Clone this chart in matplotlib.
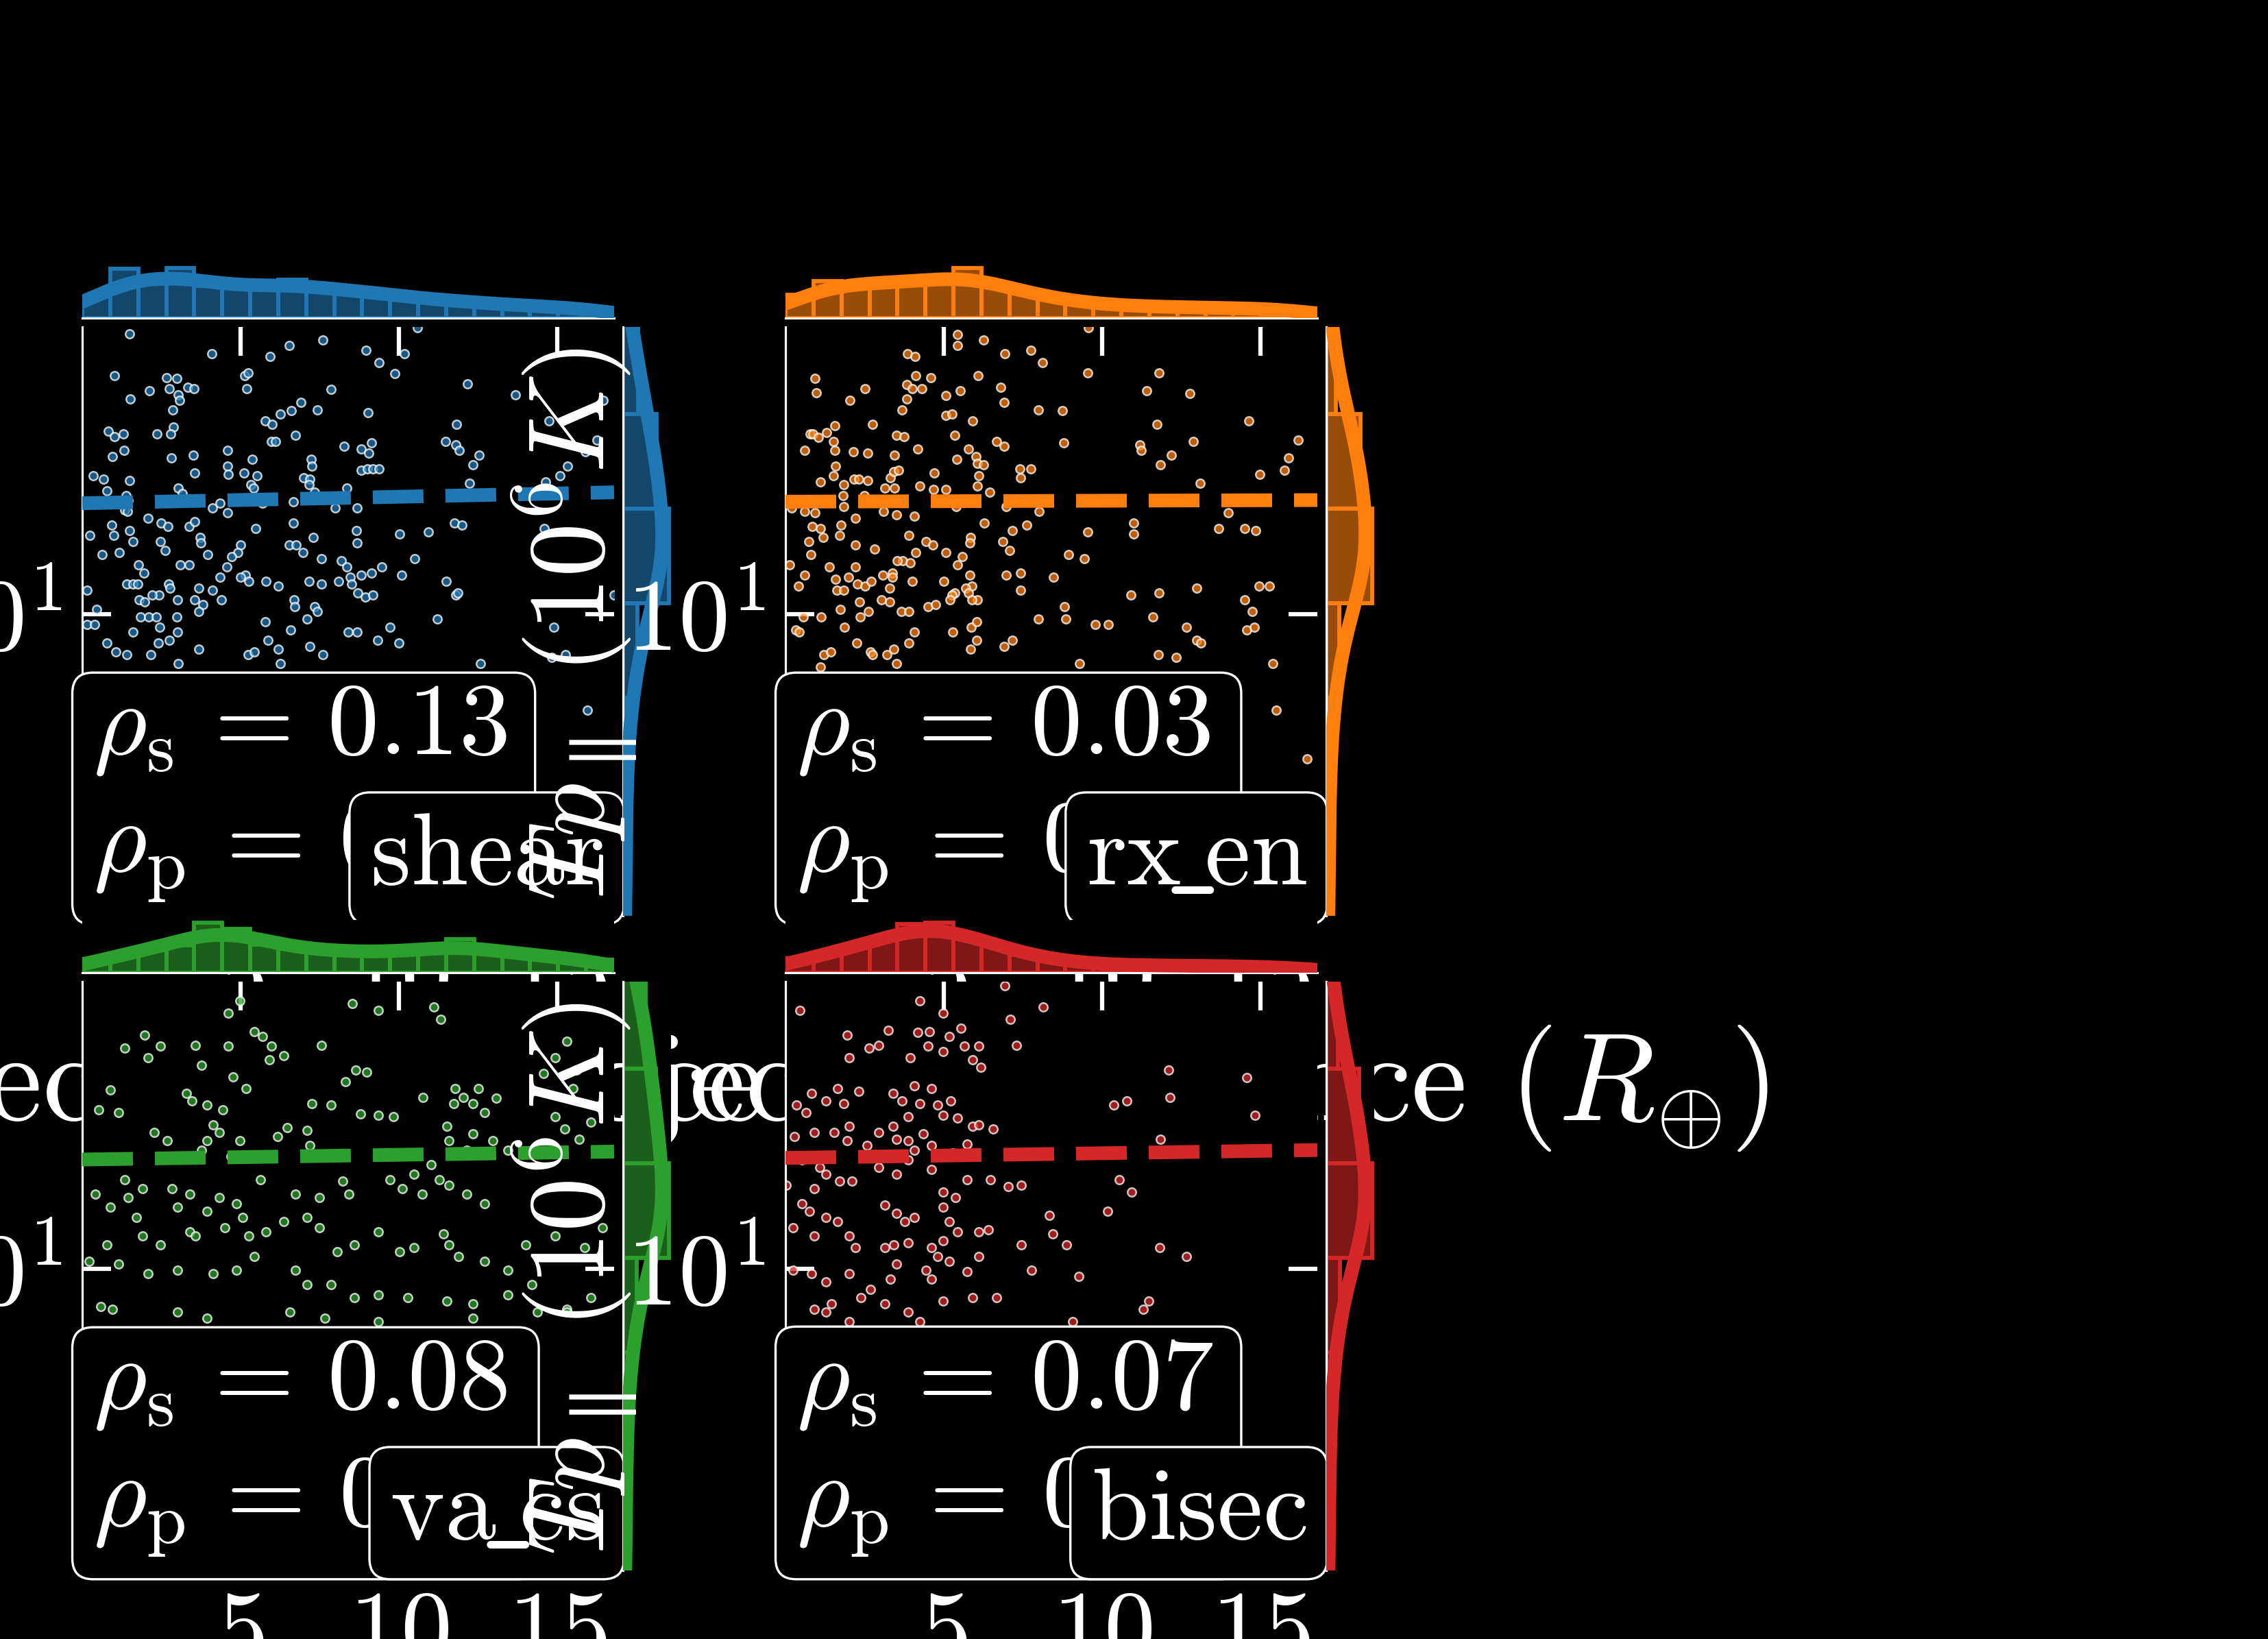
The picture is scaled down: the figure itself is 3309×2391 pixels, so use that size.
import numpy as np
import matplotlib
matplotlib.use("Agg")
import matplotlib.pyplot as plt
from matplotlib.colors import to_rgba
from matplotlib.ticker import FixedLocator, NullLocator

# ------------------------------------------------------------------ data
panel_labels = [r"$\mathrm{shear}$", r"$\mathrm{rx}\!\_\!\mathrm{en}$", r"$\mathrm{va}\!\_\!\mathrm{cs}$", r"$\mathrm{bisec}$"]
colors = ["#1f77b4", "#ff7f0e", "#2ca02c", "#d62728"]
rho_s = [0.13, 0.03, 0.08, 0.07]
rho_p = [0.11, 0.02, 0.06, 0.05]
trend_start = [15.6, 15.7, 15.5, 15.6]
trend_end = [16.3, 15.8, 16.0, 16.1]
x_range = [0.0, 16.8]
log_y_range = [0.475, 1.5]
x_ticks = [5, 10, 15]
xlabel = r"Projected distance ($R_{\!\oplus}\!$)"
ylabel = r"$Tp_\parallel$ ($10^6 K$)"

shear_pts = [
    (1.49,30.8),(4.10,28.4),(5.93,28.1),(6.53,29.4),(7.60,30.0),(8.97,28.8),(9.38,27.4),(9.88,26.2),(10.18,28.4),(10.58,31.5),(1.02,26.0),(2.67,25.8),(2.98,25.7),(5.14,26.0),(5.23,26.3),
    (2.13,24.5),(2.74,24.7),(3.04,24.1),(3.07,23.6),(3.34,24.8),(3.53,24.7),(1.52,23.7),(5.20,24.7),(7.86,24.6),(12.16,25.2),(13.68,24.1),(16.46,23.6),(6.91,23.4),(6.61,22.6),(6.26,22.3),(7.42,22.7),(9.03,22.4),(2.86,22.7),(5.78,21.7),(6.00,21.4),(14.74,21.7),(11.82,21.4),(2.89,21.2),
    (0.82,20.8),(1.02,20.4),(1.29,20.6),(2.37,20.6),(2.80,20.6),(6.73,20.5),(5.97,20.0),(6.11,20.0),(8.27,19.6),(8.81,19.4),(9.13,19.9),(9.06,19.1),(11.47,20.0),(11.79,19.7),(11.90,19.3),(16.26,20.1),(15.90,19.2),(1.32,19.3),(0.96,18.8),(2.81,18.7),(3.51,18.9),(4.60,19.3),(5.36,18.6),(7.23,18.6),(7.25,18.1),(12.54,18.9),(12.34,18.2),(15.32,18.1),(15.08,17.4),(4.59,18.1),(4.62,17.5),(3.56,17.6),(5.12,17.6),(5.52,17.4),(8.81,17.8),(9.00,17.9),(9.19,17.9),(9.38,17.9),(0.35,17.4),(0.67,17.2),(0.79,16.4),(1.49,17.1),(6.99,17.3),(7.19,17.2),(7.16,16.8),(8.36,16.6),(12.23,16.9),(14.64,17.0),
    (1.38,16.1),(1.44,15.8),(3.04,16.6),(3.15,16.2),(5.32,16.8),(5.41,16.6),(7.33,16.3),(6.66,15.7),(5.70,15.6),(4.12,15.3),(4.36,15.6),(4.60,15.0),(1.34,15.2),(1.43,15.1),(7.99,15.3),(8.69,15.3),
    (2.07,14.7),(2.48,14.4),(2.71,14.2),(0.94,14.3),(0.24,13.7),(0.99,13.7),(1.50,14.0),(3.37,14.2),(3.56,14.5),(5.47,14.1),(6.67,14.4),(8.66,14.0),(10.02,13.8),(10.94,13.9),(11.76,14.4),(12.00,14.3),(14.59,14.1),(2.46,13.4),(3.72,13.6),(3.75,13.3),(1.61,13.4),(7.29,13.6),(8.69,13.3),(6.53,13.2),(6.75,13.2),(6.98,12.8),(5.00,13.2),(0.62,12.7),(1.16,12.8),(2.61,12.9),(3.97,12.7),(4.91,12.8),(4.73,12.6),(7.55,12.5),(8.18,12.4),(8.36,12.1),(9.47,12.1),(10.50,12.5),
    (1.78,12.2),(1.95,11.8),(3.10,12.2),(3.37,12.2),(4.57,12.1),(5.15,11.7),(5.00,11.6),(4.35,11.6),(5.26,11.4),(5.81,11.4),(6.20,11.2),(7.17,11.4),(7.55,11.3),(8.10,11.4),(8.47,11.6),(8.50,11.3),(8.81,11.7),(9.13,11.8),(10.08,11.7),(11.49,11.4),(1.40,11.3),(1.60,11.3),(1.76,11.3),(2.72,11.3),(2.77,11.1),(3.68,11.1),(4.12,11.0),(0.15,11.0),(2.42,10.8),(2.20,10.8),(3.01,10.6),(3.56,10.6),(8.71,10.9),(8.94,10.7),(9.19,10.8),(11.79,10.8),(11.87,10.9),(6.69,10.6),(6.72,10.3),(7.34,10.3),(4.39,10.6),(1.79,10.6),(1.96,10.5),(3.81,10.4),(0.46,10.2),
    (1.85,9.9),(2.10,9.9),(2.33,9.9),(2.98,9.9),(3.69,10.1),(0.15,9.6),(0.40,9.6),(1.60,9.3),(2.45,9.5),(3.01,9.3),(5.78,9.7),(6.58,9.4),(7.11,9.8),(7.42,10.1),(9.73,9.5),(11.22,9.8),(8.40,9.3),(8.68,9.3),(0.78,8.9),(2.40,8.9),(2.75,9.0),(3.69,8.7),(5.87,9.0),(6.19,8.7),(7.19,8.8),(9.33,9.0),(10.00,8.9),(1.06,8.6),(1.40,8.5),(2.17,8.5),(3.04,8.2),(5.23,8.5),(5.44,8.6),(6.25,8.2),(7.60,8.5),(12.58,8.2),(14.89,9.5),(14.82,8.4),(15.27,8.5),(15.96,6.8),(16.79,10.8),
]

rxen_pts = [
    (5.44,30.7),(5.43,29.4),(6.26,30.0),(6.93,28.4),(7.74,28.8),(8.11,27.4),(9.56,31.5),(3.86,28.4),(4.09,28.1),(0.93,25.7),(0.97,24.3),(4.12,26.0),(4.59,25.8),(3.83,25.1),(4.01,24.7),(4.31,24.7),(3.83,23.7),(5.07,24.0),(5.52,24.5),(6.09,26.0),(6.79,24.8),(6.90,23.4),(2.51,24.7),(2.03,23.6),(9.55,26.3),(11.79,26.3),(11.42,24.5),(12.78,24.2),
    (3.67,22.7),(5.07,22.2),(5.26,22.3),(5.91,21.7),(7.98,22.7),(8.74,22.6),(11.74,21.4),(14.63,21.7),(16.19,20.1),(0.77,20.6),(0.86,20.6),(1.04,20.3),(1.30,20.7),(1.55,21.3),(1.51,20.0),(0.60,19.3),(1.55,19.3),(2.14,19.2),(2.60,19.1),(2.76,21.4),(3.44,18.9),(3.50,20.5),(3.74,20.4),(4.18,19.4),(5.35,20.5),(5.78,19.4),(6.66,20.0),(6.90,19.6),(8.78,19.9),(11.20,19.7),(11.23,19.3),(12.89,20.0),(12.19,18.9),(11.85,18.2),(15.90,18.7),(15.75,17.8),(14.98,17.5),(13.10,16.9),
    (1.59,18.1),(1.52,17.4),(1.10,17.0),(1.85,16.8),(2.16,17.2),(2.32,17.2),(2.60,17.1),(3.13,16.6),(3.31,17.3),(3.42,17.7),(3.58,17.8),(3.45,16.6),(4.25,16.7),(4.70,17.6),(4.68,16.5),(5.07,16.5),(5.41,18.6),(6.02,18.8),(6.07,18.3),(6.25,18.2),(6.11,17.4),(6.07,16.7),(6.46,16.3),(7.41,17.9),(7.76,17.9),(7.43,17.3),
    (1.81,16.1),(2.50,16.1),(1.84,15.4),(0.60,15.1),(0.93,15.0),(0.20,15.3),(3.09,15.1),(3.50,14.9),(4.07,14.8),(5.40,15.4),(6.98,15.4),(8.02,15.1),(13.98,15.0),(0.84,14.2),(1.11,14.1),(1.18,13.6),(0.73,13.4),(1.76,14.3),(1.70,13.7),(2.20,14.7),(3.90,13.7),(2.82,13.0),(4.44,13.4),(4.66,13.2),(5.84,13.6),(5.82,13.3),(6.28,14.4),(6.86,13.4),(7.17,14.0),(7.61,14.3),(7.08,12.9),(9.55,13.9),(11.00,14.4),(11.00,13.8),(13.69,14.1),(14.50,14.1),(14.86,14.0),
    (0.81,12.7),(2.20,13.2),(1.39,12.1),(1.59,11.5),(2.21,12.1),(2.00,11.6),(2.28,11.3),(2.51,11.2),(2.71,11.4),(3.08,11.7),(3.38,11.8),(3.37,11.6),(3.71,12.4),(3.52,12.4),(3.94,12.3),(4.12,12.8),(5.07,12.8),(5.44,12.2),(5.58,12.6),(5.82,11.7),(5.89,11.2),(5.70,11.1),(5.78,10.9),(6.07,10.6),(5.01,11.4),(5.35,10.9),(5.27,10.8),(6.98,11.7),(7.43,11.8),(7.42,11.0),(8.46,11.6),(8.94,12.7),(9.43,12.5),
    (0.41,11.2),(0.60,11.7),(1.62,11.0),(1.83,11.0),(2.33,10.5),(3.04,10.6),(3.28,10.5),(3.30,11.1),(4.01,11.4),(4.51,10.3),(4.75,10.4),(5.19,10.6),(5.88,10.6),(10.91,10.8),(11.79,10.9),(13.00,11.1),(14.95,11.2),(15.28,11.2),(14.51,10.6),(14.74,10.1),(0.14,12.2),
    (1.74,10.2),(2.61,10.1),(3.65,10.1),(3.90,10.1),(0.56,9.9),(1.13,9.9),(2.35,9.9),(8.82,10.3),(8.85,9.8),(7.98,9.8),(9.78,9.6),(10.20,9.6),(11.60,9.9),(12.66,9.5),(14.58,9.4),(14.80,9.5),(0.33,9.4),(0.44,9.3),(1.87,9.5),(4.08,9.3),(5.29,9.3),(5.87,9.5),(6.04,9.7),(6.04,9.0),
    (2.25,8.9),(2.69,8.6),(2.76,8.5),(3.20,8.5),(3.42,8.7),(3.90,8.9),(5.84,8.7),(6.90,8.8),(7.16,9.0),(11.78,8.5),(12.34,8.4),(13.00,9.0),(13.12,8.9),(15.40,8.2),(1.10,8.1),(1.21,8.5),(1.43,8.6),(3.50,8.2),(9.29,8.2),(15.51,6.8),(16.48,5.6),
]

vacs_pts = [
    (4.99,29.3),(8.53,29.0),(9.35,28.2),(11.10,28.6),(11.33,27.2),(4.62,27.9),(1.97,25.5),(1.34,24.2),(2.46,24.4),(3.57,24.5),(4.62,24.4),(5.44,25.9),(5.70,25.4),(5.98,24.4),(6.37,23.5),(5.92,23.1),(7.56,24.5),(2.08,23.3),(3.76,22.6),(4.77,21.6),(5.18,20.6),
    (3.28,20.2),(3.46,19.6),(3.95,19.3),(4.43,18.9),(0.89,20.5),(0.52,18.9),(1.15,18.7),(2.27,17.3),(2.68,16.7),(4.13,17.8),(4.32,17.3),(3.95,16.7),(3.76,16.1),(4.99,16.7),(4.69,15.7),(6.48,17.6),(7.11,17.4),(7.19,16.4),(6.18,17.0),
    (8.64,22.2),(8.98,22.0),(8.31,21.2),(7.26,19.4),(7.86,19.3),(8.79,18.6),(9.35,18.5),(9.83,18.4),(10.77,19.9),(11.77,20.6),(11.74,19.4),(12.03,19.9),(12.33,19.4),(12.52,20.6),(12.70,18.7),(13.08,19.8),(12.33,17.2),(11.51,17.7),(11.59,16.7),(12.14,16.1),(12.96,16.7),(13.45,16.1),
    (15.31,24.9),(14.94,23.3),(15.61,22.2),(14.57,21.9),(15.50,20.6),(14.94,18.4),(15.24,17.5),(15.69,16.8),(16.06,18.0),
    (11.03,15.2),(10.47,14.6),(9.72,14.3),(10.10,13.8),(10.73,13.5),(11.29,14.3),(11.59,14.0),(12.14,13.5),(12.70,13.0),(8.23,14.2),(8.42,13.5),(7.49,13.3),(6.74,13.5),(5.62,14.3),(4.88,13.0),(4.32,13.3),(3.95,12.6),(3.39,13.5),(2.83,13.8),(3.01,12.8),(1.90,13.8),(1.34,14.3),(1.45,13.3),(0.41,13.5),(0.89,12.8),(1.71,12.3),
    (1.90,11.4),(2.46,11.0),(3.39,11.6),(3.57,11.4),(4.51,11.8),(5.06,12.3),(5.25,11.4),(5.81,11.6),(6.37,12.1),(7.11,12.3),(7.49,11.8),(8.05,10.7),(8.60,11.0),(9.35,11.6),(10.02,10.7),(10.47,10.9),(11.40,11.5),(11.59,11.0),(11.88,10.5),(12.70,10.3),(13.45,9.95),(14.01,11.0),(14.94,11.4),(15.87,10.9),(16.43,11.8),
    (0.78,11.0),(0.22,10.3),(1.15,10.2),(2.08,9.8),(3.01,9.95),(4.13,9.8),(4.88,9.95),(5.44,10.5),(6.74,9.95),(7.11,9.4),(7.86,9.4),(8.60,8.9),(9.35,9.0),(10.28,8.9),(11.51,8.8),(12.33,8.7),(13.45,9.0),(14.20,9.4),(15.31,8.5),(16.06,8.9),
    (0.59,8.6),(0.96,8.5),(3.01,8.4),(3.95,8.2),(6.56,8.4),(7.67,8.2),(9.35,8.1),(12.33,8.2),(14.38,8.4),(15.31,8.4),
]

bisec_pts = [
    (0.46,28.2),(4.25,29.3),(4.99,27.9),(6.92,31.1),(8.14,28.6),(7.10,27.2),(1.95,25.5),(3.24,26.0),(4.17,25.8),(4.54,25.9),(5.17,25.4),(5.54,26.2),(5.66,24.4),(6.10,24.4),(4.99,23.9),(4.51,24.4),(2.65,24.2),(2.95,24.5),(2.02,23.3),(3.95,23.3),(7.29,24.5),(5.92,23.1),(6.18,22.4),(12.11,22.2),(14.56,21.5),
    (1.65,20.6),(0.83,20.2),(0.35,19.3),(0.65,18.7),(1.28,19.6),(1.84,19.4),(2.32,20.4),(3.39,20.2),(3.69,19.6),(4.06,20.8),(4.25,19.4),(4.62,20.6),(4.80,19.3),(4.99,18.5),(5.21,19.6),(5.43,18.3),(5.92,17.7),(6.55,17.5),(6.10,17.8),(3.87,18.4),(3.39,17.7),(2.95,17.3),(2.02,17.7),(1.54,17.3),(0.91,17.3),(0.28,17.0),(1.95,16.7),(2.58,16.4),(3.50,16.8),(3.87,16.7),(4.06,16.1),(4.36,17.2),(4.62,16.4),(5.28,15.9),(5.73,16.5),
    (10.37,19.3),(10.78,19.6),(12.15,19.9),(14.82,18.5),(11.85,16.8),
    (0.53,15.5),(1.09,15.0),(1.28,14.6),(1.72,14.2),(2.09,14.2),(0.91,13.8),(0.03,14.0),(2.95,15.0),(3.50,14.6),(3.87,15.5),(4.62,14.9),(4.99,13.6),(5.36,13.3),(5.73,14.3),(6.47,14.3),(7.03,13.9),(7.44,14.0),(10.55,14.3),(10.93,13.6),
    (0.53,13.0),(0.76,12.6),(1.28,12.3),(1.65,12.1),(3.13,12.9),(3.50,12.5),(3.76,12.1),(4.06,12.3),(4.99,12.8),(5.17,12.1),(5.43,11.6),(6.10,11.6),(6.40,11.7),(8.33,12.4),(10.18,12.6),
    (0.24,11.8),(0.91,11.4),(2.02,11.4),(2.20,10.9),(3.13,10.9),(3.43,11.0),(3.87,11.1),(4.62,10.9),(4.80,10.5),(4.99,11.2),(5.17,10.3),(3.50,10.2),(6.10,10.5),(7.44,11.0),(8.44,11.5),(8.88,11.0),(11.82,10.9),(12.67,10.5),
    (0.24,9.95),(0.83,9.8),(1.28,9.5),(2.02,9.8),(2.69,9.2),(3.32,9.6),(4.43,9.95),(4.62,9.6),(5.73,9.9),(7.77,9.95),(9.26,9.7),
    (0.91,8.5),(1.46,8.7),(2.39,8.9),(3.13,8.7),(3.87,8.4),(4.99,8.8),(5.92,8.9),(6.66,8.9),(11.48,8.8),(11.30,8.5),(1.28,8.4),(2.02,8.1),(4.25,8.1),(9.07,8.1),
]

# marginal histograms (19 x-bins over x_range, 7 log-y bins)
x_bin_count = 19
log_y_edges = [0.359, 0.524, 0.689, 0.854, 1.019, 1.184, 1.349, 1.514]
shear_xcounts = [95, 216, 150, 220, 140, 135, 133, 168, 128, 115, 121, 90, 78, 78, 62, 55, 50, 47, 44]
rxen_xcounts = [50, 80, 72, 76, 78, 79, 108, 70, 55, 42, 33, 28, 25, 24, 23, 22, 21, 20, 20]
vacs_xcounts = [60, 80, 100, 118, 215, 187, 120, 107, 95, 88, 87, 90, 93, 145, 88, 80, 72, 63, 55]
bisec_xcounts = [20, 27, 35, 45, 68, 70, 52, 38, 25, 17, 13, 11, 10, 10, 10, 9, 9, 8, 8]
shear_ycounts = [3, 4, 6, 20, 63, 46, 21]
rxen_ycounts = [3, 4, 6, 18, 64, 48, 13]
vacs_ycounts = [3, 4, 6, 18, 60, 43, 30]
bisec_ycounts = [3, 4, 6, 18, 60, 43, 15]

points = [shear_pts, rxen_pts, vacs_pts, bisec_pts]
xcounts = [shear_xcounts, rxen_xcounts, vacs_xcounts, bisec_xcounts]
ycounts = [shear_ycounts, rxen_ycounts, vacs_ycounts, bisec_ycounts]

# ------------------------------------------------------------------ style
plt.rcParams.update({
    "font.family": "serif",
    "font.serif": ["cmr10"],
    "mathtext.fontset": "cm",
    "axes.formatter.use_mathtext": True,
    "axes.unicode_minus": False,
    "text.color": "white",
    "axes.labelcolor": "white",
    "xtick.color": "white",
    "ytick.color": "white",
    "axes.edgecolor": "white",
    "figure.facecolor": "black",
    "axes.facecolor": "black",
})

W, H = 3309, 2391
fig = plt.figure(figsize=(W / 300, H / 300), dpi=300)


def rect(left, top, w, h):
    return [left / W, 1 - (top + h) / H, w / W, h / H]


def smooth(grid, centers, counts, width, bw):
    z = (grid[:, None] - centers[None, :]) / bw
    return (counts[None, :] * width * np.exp(-0.5 * z ** 2) / (np.sqrt(2 * np.pi) * bw)).sum(axis=1)


TICK_FS = 36
XLABEL_FS = 44.2
YLABEL_FS = 38
LW_KDE = 4.8

x_edges = np.linspace(x_range[0], x_range[1], x_bin_count + 1)
x_centers = 0.5 * (x_edges[1:] + x_edges[:-1])
x_width = x_edges[1] - x_edges[0]
ly_edges = np.array(log_y_edges)
ly_centers = 0.5 * (ly_edges[1:] + ly_edges[:-1])
ly_width = ly_edges[1] - ly_edges[0]

for i in range(4):
    r, c = divmod(i, 2)
    dx, dy = 1026 * c, 955 * r
    col = colors[i]
    pts = np.array(points[i])

    # ---- joint axes
    ax = fig.add_axes(rect(120 + dx, 477 + dy, 776, 859))
    ax.set_facecolor("black")
    ax.set_yscale("log")
    ax.set_xlim(*x_range)
    ax.set_ylim(10 ** log_y_range[0], 10 ** log_y_range[1])
    ax.scatter(pts[:, 0], pts[:, 1], s=9, color=col, edgecolors="white",
               linewidths=0.6, alpha=0.75, zorder=2)
    ax.plot(x_range, [trend_start[i], trend_end[i]], ls="--", color=col,
            lw=LW_KDE, zorder=3)
    ax.xaxis.set_major_locator(FixedLocator(x_ticks))
    ax.xaxis.set_minor_locator(NullLocator())
    ax.yaxis.set_minor_locator(NullLocator())
    ax.tick_params(which="major", direction="in", length=10, width=1.5,
                   labelsize=TICK_FS, pad=7, top=True, right=True, colors="white")
    for s in ("top", "right"):
        ax.spines[s].set_visible(False)
    for s in ("left", "bottom"):
        ax.spines[s].set_color("white")
        ax.spines[s].set_linewidth(0.75)
    ax.set_xlabel(xlabel, fontsize=XLABEL_FS)
    ax.xaxis.set_label_coords(0.611, -0.183)
    ax.set_ylabel(ylabel, fontsize=YLABEL_FS)
    ax.yaxis.set_label_coords(-0.274, 0.495)

    box = dict(boxstyle="round,pad=0.2", fc="black", ec="white", lw=0.8)
    ax.text(0.02, 0.02,
            r"$\rho_\mathrm{s} \,=\, %.2f$" % rho_s[i] + "\n" + r"$\rho_\mathrm{p} \,=\, %.2f$" % rho_p[i],
            transform=ax.transAxes, ha="left", va="bottom", fontsize=TICK_FS,
            linespacing=1.32, color="white", bbox=box, zorder=5)
    ax.text(0.98, 0.02, panel_labels[i], transform=ax.transAxes, ha="right",
            va="bottom", fontsize=TICK_FS, color="white", bbox=box, zorder=5)

    # ---- top marginal
    axx = fig.add_axes(rect(120 + dx, 387 + dy, 776, 77), sharex=ax)
    axx.set_facecolor("black")
    xc = np.array(xcounts[i], dtype=float)
    axx.bar(x_centers, xc, width=x_width, facecolor=to_rgba(col, 0.6),
            edgecolor=col, linewidth=1.4, zorder=2)
    gx = np.linspace(x_range[0], x_range[1], 400)
    kx = smooth(gx, x_centers, xc, x_width, 1.2)
    axx.plot(gx, kx, color=col, lw=LW_KDE, zorder=3)
    axx.set_ylim(0, max(xc.max(), kx.max()) * 1.05)
    axx.tick_params(axis="both", which="both", left=False, bottom=False,
                    labelleft=False, labelbottom=False, top=False, right=False)
    for s in ("top", "right", "left"):
        axx.spines[s].set_visible(False)
    axx.spines["bottom"].set_color("white")
    axx.spines["bottom"].set_linewidth(0.75)

    # ---- right marginal
    axy = fig.add_axes(rect(909 + dx, 477 + dy, 70, 859), sharey=ax)
    axy.set_facecolor("black")
    yc = np.array(ycounts[i], dtype=float)
    axy.barh(10 ** ly_edges[:-1], yc, height=np.diff(10 ** ly_edges), align="edge",
             facecolor=to_rgba(col, 0.6), edgecolor=col, linewidth=1.4, zorder=2)
    gy = np.linspace(log_y_range[0], log_y_range[1], 400)
    ky = smooth(gy, ly_centers, yc, ly_width, 0.1)
    axy.plot(ky, 10 ** gy, color=col, lw=LW_KDE, zorder=3)
    axy.set_xlim(0, max(yc.max(), ky.max()) * 1.05)
    axy.tick_params(axis="both", which="both", left=False, bottom=False,
                    labelleft=False, labelbottom=False, top=False, right=False)
    for s in ("top", "right", "bottom"):
        axy.spines[s].set_visible(False)
    axy.spines["left"].set_color("white")
    axy.spines["left"].set_linewidth(0.75)

fig.savefig("out.png", dpi=300, facecolor="black")
